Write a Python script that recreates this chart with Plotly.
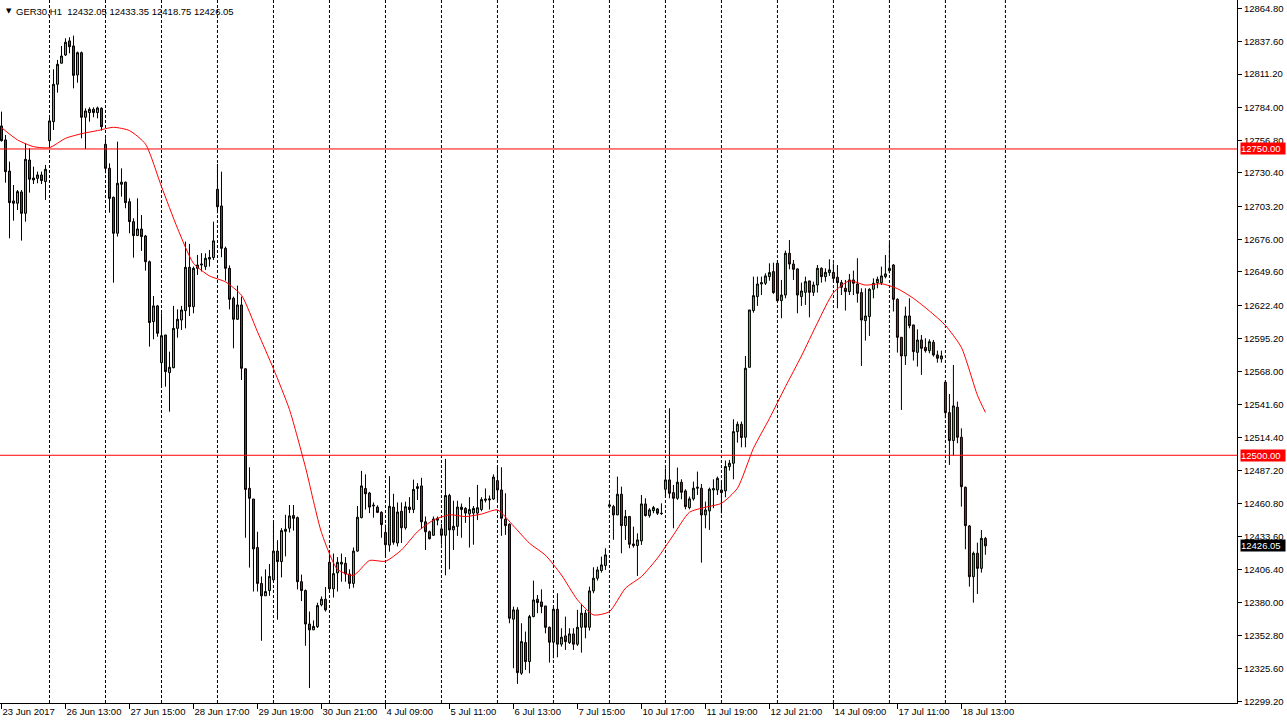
import plotly.graph_objects as go

# GER30 H1, 23 Jun 2017 - 18 Jul 2017 (bars numbered from the left edge)
SYMBOL = 'GER30,H1'
LAST_OHLC = '12432.05 12433.35 12418.75 12426.05'

OPEN = [
    12768.8, 12757.4, 12732.0, 12707.6, 12705.7, 12714.9, 12697.5, 12741.0, 12726.3, 12726.0,
    12728.8, 12723.4, 12756.8, 12772.3, 12802.8, 12820.0, 12826.7, 12838.2, 12834.1, 12810.4,
    12828.6, 12775.9, 12779.7, 12782.4, 12779.7, 12783.2, 12753.8, 12734.2, 12710.6, 12681.2,
    12721.2, 12722.9, 12707.0, 12690.7, 12679.3, 12684.7, 12679.0, 12658.0, 12609.1, 12621.9,
    12575.6, 12598.2, 12567.5, 12571.5, 12603.6, 12610.4, 12618.0, 12653.4, 12621.3, 12652.6,
    12655.3, 12654.0, 12660.1, 12661.4, 12717.1, 12703.5, 12668.9, 12652.6, 12628.2, 12611.0,
    12622.7, 12570.6, 12473.0, 12464.3, 12424.7, 12395.4, 12385.3, 12389.6, 12398.3, 12421.8,
    12413.2, 12437.9, 12440.5, 12450.8, 12449.1, 12396.8, 12389.6, 12362.3, 12357.5, 12360.1,
    12377.9, 12382.5, 12412.6, 12391.0, 12404.0, 12411.2, 12411.8, 12403.1, 12395.4, 12421.8,
    12449.1, 12472.9, 12469.2, 12458.6, 12457.7, 12453.4, 12437.0, 12426.7, 12457.7, 12428.4,
    12454.3, 12440.8, 12457.7, 12455.7, 12472.9, 12475.0, 12445.7, 12437.6, 12434.7, 12447.0,
    12439.9, 12434.7, 12467.2, 12439.1, 12442.0, 12457.7, 12456.6, 12452.2, 12452.8, 12452.8,
    12455.7, 12464.3, 12463.5, 12464.3, 12479.3, 12471.7, 12447.8, 12443.7, 12366.2, 12373.8,
    12322.1, 12347.1, 12331.6, 12368.3, 12382.5, 12380.3, 12377.0, 12359.6, 12347.4, 12374.3,
    12345.8, 12352.6, 12347.1, 12354.2, 12345.8, 12359.6, 12371.1, 12359.6, 12389.3, 12399.6,
    12405.9, 12410.0, 12458.4, 12458.1, 12451.3, 12468.2, 12442.6, 12450.0, 12427.6, 12426.3,
    12430.1, 12460.3, 12450.8, 12454.8, 12456.2, 12452.7, 12472.3, 12479.9, 12469.5, 12464.9,
    12478.0, 12470.9, 12457.3, 12464.4, 12473.1, 12473.1, 12451.3, 12454.6, 12471.7, 12471.7,
    12471.7, 12470.9, 12490.8, 12493.5, 12519.3, 12525.3, 12514.7, 12571.8, 12618.1, 12629.5,
    12639.8, 12640.4, 12645.8, 12649.9, 12656.7, 12626.2, 12630.8, 12664.9, 12656.1, 12652.1,
    12629.5, 12633.0, 12642.3, 12633.0, 12639.0, 12652.6, 12645.8, 12649.1, 12649.3, 12645.3,
    12640.9, 12636.3, 12633.6, 12643.1, 12639.8, 12632.8, 12609.9, 12613.2, 12635.5, 12640.9,
    12640.9, 12645.8, 12650.7, 12655.3, 12627.3, 12596.3, 12581.1, 12613.7, 12606.4, 12584.0,
    12594.1, 12588.1, 12585.4, 12592.2, 12581.9, 12578.6, 12559.6, 12534.8, 12512.0, 12539.2,
    12514.7, 12473.9, 12442.3, 12400.9, 12420.0, 12407.7, 12432.05,
]
HIGH = [
    12780.5, 12761.4, 12739.7, 12720.6, 12716.5, 12716.5, 12754.6, 12750.6, 12735.6, 12731.5,
    12731.5, 12737.0, 12777.8, 12815.0, 12822.7, 12834.1, 12840.3, 12841.2, 12842.5, 12829.5,
    12829.5, 12783.2, 12784.0, 12784.0, 12784.6, 12784.0, 12758.7, 12738.3, 12711.1, 12756.0,
    12734.2, 12723.4, 12709.7, 12693.4, 12709.7, 12696.1, 12679.8, 12658.9, 12630.0, 12622.7,
    12615.9, 12598.2, 12584.6, 12621.9, 12619.1, 12621.9, 12674.4, 12672.5, 12654.0, 12663.5,
    12665.0, 12664.8, 12667.6, 12690.7, 12737.8, 12731.5, 12670.3, 12655.0, 12629.5, 12638.5,
    12629.5, 12571.0, 12490.2, 12464.3, 12437.6, 12401.1, 12406.9, 12411.2, 12444.8, 12430.7,
    12440.5, 12451.4, 12459.4, 12459.4, 12450.0, 12402.6, 12390.5, 12372.5, 12365.2, 12379.6,
    12384.8, 12392.5, 12419.8, 12419.8, 12416.9, 12419.8, 12416.9, 12406.9, 12424.7, 12458.6,
    12487.3, 12484.4, 12470.1, 12461.5, 12459.2, 12454.3, 12443.4, 12483.0, 12468.6, 12461.5,
    12461.5, 12462.1, 12465.8, 12480.1, 12477.3, 12481.6, 12450.0, 12438.5, 12450.0, 12450.0,
    12444.2, 12497.0, 12468.6, 12462.9, 12462.9, 12460.6, 12457.7, 12465.8, 12458.6, 12475.8,
    12465.8, 12472.9, 12467.2, 12484.4, 12490.2, 12490.2, 12469.0, 12444.5, 12376.5, 12376.0,
    12362.9, 12356.1, 12369.7, 12397.7, 12386.0, 12390.6, 12377.0, 12360.2, 12376.5, 12387.4,
    12358.8, 12368.3, 12358.8, 12358.8, 12373.8, 12378.7, 12373.8, 12392.8, 12408.6, 12409.1,
    12417.3, 12424.1, 12461.0, 12459.5, 12482.6, 12474.4, 12455.4, 12450.5, 12441.8, 12436.3,
    12467.6, 12464.9, 12456.8, 12458.7, 12456.8, 12460.8, 12489.4, 12538.4, 12475.8, 12490.0,
    12480.4, 12472.3, 12466.3, 12478.5, 12486.7, 12476.6, 12462.2, 12473.6, 12480.4, 12482.6,
    12478.5, 12495.7, 12496.2, 12529.4, 12527.5, 12527.5, 12581.1, 12618.6, 12645.8, 12645.8,
    12645.8, 12648.5, 12656.7, 12657.2, 12659.4, 12643.1, 12667.0, 12675.7, 12659.4, 12652.6,
    12640.9, 12645.8, 12642.5, 12641.7, 12655.3, 12653.4, 12652.6, 12660.0, 12656.7, 12655.3,
    12643.1, 12643.1, 12648.0, 12650.7, 12660.8, 12636.3, 12636.3, 12636.3, 12644.4, 12645.8,
    12654.0, 12663.5, 12673.6, 12656.1, 12628.1, 12596.3, 12621.3, 12628.1, 12606.4, 12602.8,
    12598.2, 12595.5, 12594.7, 12594.1, 12585.4, 12585.4, 12560.1, 12550.0, 12573.7, 12543.8,
    12522.0, 12474.4, 12443.1, 12421.4, 12428.7, 12439.0, 12433.35,
]
LOW = [
    12756.0, 12722.5, 12677.1, 12691.5, 12700.2, 12675.2, 12690.7, 12714.4, 12721.4, 12722.0,
    12721.4, 12708.4, 12750.6, 12765.5, 12796.0, 12819.9, 12825.9, 12828.1, 12799.5, 12804.1,
    12758.7, 12750.0, 12772.3, 12775.9, 12775.0, 12765.0, 12730.2, 12698.0, 12640.9, 12678.5,
    12711.1, 12701.6, 12681.2, 12661.3, 12679.0, 12666.8, 12650.7, 12588.7, 12594.7, 12596.8,
    12556.0, 12556.0, 12535.6, 12571.0, 12596.0, 12602.3, 12603.6, 12613.7, 12615.9, 12647.2,
    12650.0, 12651.3, 12654.0, 12659.4, 12697.5, 12661.6, 12642.5, 12619.1, 12587.3, 12610.4,
    12561.5, 12432.7, 12408.3, 12388.8, 12388.8, 12348.6, 12385.3, 12385.3, 12396.8, 12365.8,
    12400.3, 12417.5, 12437.0, 12438.5, 12390.5, 12381.0, 12344.5, 12310.0, 12357.5, 12359.0,
    12376.7, 12372.4, 12388.2, 12383.9, 12388.8, 12396.8, 12396.8, 12391.0, 12391.9, 12421.3,
    12448.5, 12455.7, 12452.8, 12449.1, 12452.8, 12432.7, 12417.0, 12421.3, 12427.0, 12425.6,
    12428.4, 12439.3, 12452.8, 12452.8, 12463.5, 12440.0, 12422.7, 12431.3, 12434.2, 12442.8,
    12427.0, 12402.0, 12406.9, 12422.7, 12434.2, 12432.7, 12444.8, 12424.7, 12427.0, 12447.1,
    12454.3, 12461.5, 12455.7, 12463.5, 12462.2, 12434.2, 12435.0, 12362.9, 12326.2, 12313.4,
    12320.7, 12324.8, 12322.1, 12367.8, 12371.1, 12371.1, 12354.7, 12330.8, 12334.3, 12335.1,
    12343.8, 12341.1, 12346.0, 12341.1, 12344.4, 12338.9, 12350.6, 12356.9, 12387.4, 12397.7,
    12404.2, 12406.4, 12456.8, 12431.0, 12451.3, 12420.0, 12430.9, 12424.1, 12424.6, 12401.5,
    12426.8, 12450.0, 12449.1, 12452.7, 12451.3, 12451.3, 12466.3, 12464.9, 12440.4, 12463.6,
    12464.1, 12455.9, 12455.9, 12463.0, 12467.6, 12412.4, 12440.4, 12439.1, 12456.8, 12467.6,
    12452.7, 12465.7, 12487.5, 12480.4, 12510.3, 12506.5, 12506.5, 12571.8, 12616.4, 12621.9,
    12630.8, 12639.0, 12642.5, 12631.7, 12625.4, 12611.8, 12628.1, 12651.8, 12643.1, 12615.9,
    12621.9, 12622.7, 12612.6, 12630.0, 12632.8, 12640.9, 12641.7, 12646.4, 12641.7, 12620.0,
    12630.8, 12618.1, 12630.8, 12630.8, 12624.6, 12572.9, 12593.6, 12597.4, 12628.1, 12636.3,
    12639.0, 12644.4, 12648.5, 12617.3, 12583.8, 12537.0, 12573.7, 12603.6, 12577.3, 12572.4,
    12565.6, 12583.8, 12583.2, 12580.5, 12575.6, 12575.6, 12530.2, 12492.1, 12499.7, 12509.8,
    12458.1, 12423.3, 12392.8, 12379.7, 12386.8, 12404.2, 12418.75,
]
CLOSE = [
    12756.8, 12731.5, 12706.2, 12705.7, 12715.2, 12697.5, 12741.6, 12725.3, 12724.7, 12728.8,
    12724.2, 12733.4, 12772.9, 12802.8, 12819.1, 12825.9, 12837.1, 12833.5, 12810.1, 12828.6,
    12775.9, 12781.0, 12782.4, 12779.7, 12783.5, 12768.2, 12734.2, 12709.7, 12681.2, 12722.0,
    12722.9, 12706.2, 12690.7, 12679.3, 12684.7, 12678.5, 12658.0, 12608.3, 12621.9, 12599.6,
    12597.6, 12568.3, 12571.8, 12603.6, 12611.0, 12618.6, 12653.4, 12621.3, 12652.6, 12655.3,
    12656.0, 12660.8, 12661.4, 12675.0, 12702.9, 12668.9, 12652.6, 12627.3, 12611.0, 12622.7,
    12571.0, 12472.1, 12464.9, 12423.6, 12395.4, 12385.3, 12388.8, 12401.1, 12421.8, 12413.2,
    12438.5, 12439.6, 12450.5, 12448.5, 12396.8, 12389.6, 12362.3, 12357.5, 12360.3, 12377.3,
    12382.5, 12373.8, 12391.0, 12403.4, 12412.6, 12412.6, 12403.1, 12395.4, 12421.8, 12449.4,
    12475.0, 12468.6, 12457.7, 12459.2, 12453.4, 12443.4, 12427.0, 12458.3, 12429.0, 12453.7,
    12440.8, 12458.0, 12455.7, 12472.1, 12474.4, 12445.7, 12437.6, 12431.9, 12448.0, 12448.5,
    12434.7, 12467.2, 12439.1, 12442.0, 12457.7, 12455.7, 12452.8, 12455.7, 12456.6, 12457.2,
    12463.8, 12463.4, 12464.3, 12482.2, 12471.7, 12448.6, 12442.6, 12367.0, 12373.8, 12322.6,
    12347.9, 12331.6, 12368.3, 12381.9, 12379.8, 12376.5, 12359.6, 12347.4, 12374.3, 12345.8,
    12351.5, 12347.9, 12354.2, 12345.8, 12359.6, 12371.1, 12359.6, 12389.3, 12399.6, 12406.4,
    12410.5, 12418.7, 12459.5, 12451.3, 12468.2, 12442.6, 12450.0, 12427.4, 12426.3, 12430.9,
    12460.3, 12450.8, 12455.4, 12457.3, 12452.7, 12452.4, 12479.9, 12469.0, 12464.9, 12478.0,
    12469.8, 12458.1, 12464.4, 12473.1, 12473.9, 12451.3, 12455.4, 12472.3, 12472.8, 12481.2,
    12469.5, 12490.8, 12493.5, 12519.3, 12525.3, 12514.5, 12571.0, 12618.6, 12630.3, 12639.8,
    12640.9, 12646.4, 12649.1, 12632.8, 12626.2, 12630.8, 12664.9, 12656.1, 12651.8, 12630.8,
    12634.1, 12641.7, 12633.0, 12639.0, 12652.6, 12645.8, 12649.3, 12651.3, 12644.4, 12640.9,
    12637.1, 12633.6, 12643.1, 12640.4, 12632.2, 12610.4, 12613.7, 12635.5, 12640.4, 12643.6,
    12646.4, 12648.0, 12652.6, 12627.3, 12596.3, 12581.1, 12613.7, 12605.8, 12584.6, 12594.1,
    12587.3, 12585.4, 12592.7, 12581.9, 12579.2, 12581.1, 12534.8, 12512.0, 12540.3, 12514.7,
    12474.4, 12442.6, 12400.9, 12420.0, 12407.7, 12432.2, 12426.05,
]

# moving average, read every 4th bar
MA_BARS = [
    0, 4, 8, 12, 16, 20, 24, 28, 32, 36, 40, 44, 48, 52, 56, 60, 64, 68, 72, 76,
    80, 84, 88, 92, 96, 100, 104, 108, 112, 116, 120, 124, 128, 132, 136, 140, 144, 148, 152, 156,
    160, 164, 168, 172, 176, 180, 184, 188, 192, 196, 200, 204, 208, 212, 216, 220, 224, 228, 232, 236,
    240, 244, 246,
]
MA_VALUES = [
    12767.4, 12757.4, 12751.9, 12751.1, 12758.7, 12762.5, 12765.0, 12767.7, 12765.0, 12754.0,
    12719.3, 12685.3, 12656.7, 12646.4, 12641.5, 12630.6, 12600.8, 12570.6, 12537.3, 12490.2,
    12437.0, 12406.9, 12402.0, 12414.1, 12413.5, 12422.7, 12437.6, 12447.1, 12451.4, 12450.0,
    12452.0, 12455.4, 12442.3, 12428.2, 12418.4, 12402.3, 12382.0, 12369.7, 12372.4, 12391.5,
    12401.0, 12416.0, 12435.0, 12453.5, 12457.6, 12460.8, 12473.1, 12505.7, 12530.0, 12556.0,
    12581.0, 12608.0, 12632.7, 12642.4, 12638.9, 12640.0, 12636.0, 12628.1, 12617.8, 12606.0,
    12588.0, 12549.0, 12535.0,
]

LABEL_BARS = [0, 16, 32, 48, 64, 80, 96, 112, 128, 144, 160, 176, 192, 208, 224, 240]
LABEL_TEXT = [
    '23 Jun 2017', '26 Jun 13:00', '27 Jun 15:00', '28 Jun 17:00', '29 Jun 19:00',
    '30 Jun 21:00', '4 Jul 09:00', '5 Jul 11:00', '6 Jul 13:00', '7 Jul 15:00',
    '10 Jul 17:00', '11 Jul 19:00', '12 Jul 21:00', '14 Jul 09:00', '17 Jul 11:00',
    '18 Jul 13:00',
]
GRID_BARS = [12, 26, 40, 54, 68, 82, 96, 110, 124, 138, 152, 166, 180, 194, 208, 222, 236, 251]

PRICE_TICKS = [
    12864.80, 12837.60, 12811.20, 12784.00, 12756.80, 12730.40, 12703.20, 12676.00,
    12649.60, 12622.40, 12595.20, 12568.00, 12541.60, 12514.40, 12487.20, 12460.80,
    12433.60, 12406.40, 12380.00, 12352.80, 12325.60, 12299.20,
]
LEVELS = [12750.00, 12500.00]
LAST_PRICE = 12426.05

FONT = 'Liberation Sans, Arial, sans-serif'
FONT_SIZE = 9.5


def make_figure():
    bars = list(range(len(OPEN)))
    fig = go.Figure()

    fig.add_trace(go.Candlestick(
        x=bars, open=OPEN, high=HIGH, low=LOW, close=CLOSE,
        increasing=dict(fillcolor='#00ff00', line=dict(color='black', width=1)),
        decreasing=dict(fillcolor='#ff0000', line=dict(color='black', width=1)),
        whiskerwidth=0, showlegend=False, hoverinfo='skip',
    ))

    fig.add_trace(go.Scatter(
        x=MA_BARS, y=MA_VALUES, mode='lines',
        line=dict(color='#ff0000', width=1, shape='spline', smoothing=0.6),
        showlegend=False, hoverinfo='skip',
    ))

    shapes = []
    # dashed vertical grid
    for g in GRID_BARS:
        shapes.append(dict(
            type='line', xref='x', yref='paper', x0=g, x1=g, y0=0, y1=1,
            line=dict(color='black', width=1, dash='3px,2px'), layer='below',
        ))
    # horizontal levels
    for lvl in LEVELS:
        shapes.append(dict(
            type='line', xref='paper', yref='y', x0=0, x1=1, y0=lvl, y1=lvl,
            line=dict(color='#ff0000', width=1),
        ))

    annotations = []
    for lvl in LEVELS:
        annotations.append(dict(
            xref='paper', yref='y', x=1, y=lvl, xanchor='left', xshift=3,
            text=f'{lvl:.2f}', showarrow=False, bgcolor='#ff0000',
            font=dict(family=FONT, size=FONT_SIZE, color='white'),
            width=44, align='left', borderpad=0,
        ))
    annotations.append(dict(
        xref='paper', yref='y', x=1, y=LAST_PRICE, xanchor='left', xshift=3,
        text=f'{LAST_PRICE:.2f}', showarrow=False, bgcolor='black',
        font=dict(family=FONT, size=FONT_SIZE, color='white'),
        width=44, align='left', borderpad=0,
    ))
    annotations.append(dict(
        xref='paper', yref='paper', x=0, y=1, xanchor='left', yanchor='top',
        xshift=4, yshift=-5, text='▼', showarrow=False,
        font=dict(family='DejaVu Sans', size=7, color='black'),
    ))
    annotations.append(dict(
        xref='paper', yref='paper', x=0, y=1, xanchor='left', yanchor='top',
        xshift=14, yshift=-4, text=f'{SYMBOL}  {LAST_OHLC}', showarrow=False,
        font=dict(family=FONT, size=FONT_SIZE, color='black'),
    ))

    fig.update_layout(
        width=1287,
        height=725,
        margin=dict(l=0, r=50, t=0, b=22, autoexpand=False),
        paper_bgcolor='white',
        plot_bgcolor='white',
        shapes=shapes,
        annotations=annotations,
        font=dict(family=FONT, size=FONT_SIZE, color='black'),
        xaxis=dict(
            range=[-0.375, 308.9],
            tickvals=LABEL_BARS, ticktext=LABEL_TEXT,
            ticks='outside', ticklen=5, tickcolor='black',
            ticklabelposition='outside right',
            showgrid=False, zeroline=False,
            showline=True, linecolor='black', linewidth=1, mirror=True,
            rangeslider=dict(visible=False),
            fixedrange=True, automargin=False,
        ),
        yaxis=dict(
            side='right',
            range=[12297.8, 12871.6],
            tickvals=PRICE_TICKS, tickformat='.2f',
            ticks='outside', ticklen=4, tickcolor='black',
            showgrid=False, zeroline=False,
            showline=True, linecolor='black', linewidth=1, mirror=True,
            fixedrange=True, automargin=False,
        ),
    )
    return fig


if __name__ == '__main__':
    fig = make_figure()
    # the default page has an 8px body margin; drop it so the chart sits at 0,0
    fig.write_html(
        'out.html',
        config={'displayModeBar': False},
        post_script="document.body.style.margin = '0';",
    )
